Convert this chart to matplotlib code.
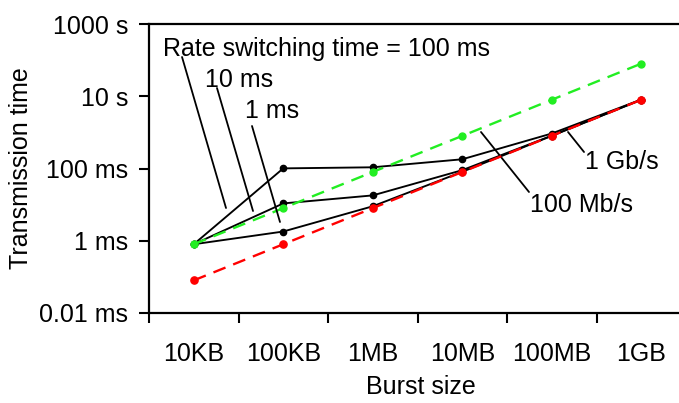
import matplotlib.pyplot as plt
import numpy as np

plt.rcParams['font.family'] = ['Liberation Sans', 'DejaVu Sans']

# Daten (Zeiten in Sekunden)
sizes = ['10KB', '100KB', '1MB', '10MB', '100MB', '1GB']
t_1gbps = [8e-5, 8e-4, 8e-3, 8e-2, 0.8, 8]
t_100mbps = [8e-4, 8e-3, 8e-2, 0.8, 8, 80]
sw_100ms = [8e-4, 0.1008, 0.108, 0.18, 0.93, 8.1]
sw_10ms = [8e-4, 0.0108, 0.018, 0.09, 0.81, 8.01]
sw_1ms = [8e-4, 0.0018, 0.009, 0.081, 0.801, 8.001]

ytick_vals = [1e-5, 1e-3, 1e-1, 1e1, 1e3]
ytick_labels = ['0.01 ms', '1 ms', '100 ms', '10 s', '1000 s']

x = np.arange(len(sizes)) + 0.5
fs = 18

fig = plt.figure(figsize=(6.79, 4.03), dpi=100)
ax = fig.add_axes([149 / 679, 1 - 313 / 403, 537 / 679, 289 / 403])

for ys in (sw_100ms, sw_10ms, sw_1ms):
    ax.plot(x, ys, color='black', lw=1.35, marker='o', ms=4.5, zorder=2)
ax.plot(x, t_100mbps, color='#22ee22', lw=1.7, dashes=(5.5, 3.5), marker='o', ms=5, zorder=3)
ax.plot(x, t_1gbps, color='#ff0000', lw=1.7, dashes=(5.5, 3.5), marker='o', ms=5.2, zorder=4)

ax.set_yscale('log')
ax.set_ylim(1e-5, 1e3)
ax.set_xlim(0, 6)
ax.set_yticks(ytick_vals)
ax.set_yticklabels(ytick_labels)
ax.yaxis.set_minor_locator(plt.NullLocator())
ax.set_xticks(np.arange(0, 7))
ax.set_xticklabels([''] * 7)
ax.set_xticks(x, minor=True)
ax.set_xticklabels(sizes, minor=True)
ax.tick_params(axis='x', which='minor', length=0, pad=21, labelsize=fs)
ax.tick_params(axis='x', which='major', length=7, width=1.5, direction='out')
ax.tick_params(axis='y', length=7, width=1.5, pad=8, labelsize=fs)

for s in ('left', 'bottom', 'top'):
    ax.spines[s].set_linewidth(1.6)
ax.spines['right'].set_visible(False)

ax.set_xlabel('Burst size', fontsize=fs)
ax.set_ylabel('Transmission time', fontsize=fs)
ax.xaxis.set_label_coords(0.5065, -0.215)
ax.yaxis.set_label_coords(-0.216, 0.503)

# Beschriftungen mit Hinweislinien
labels = [('Rate switching time = 100 ms', 0.026, 0.9135),
          ('10 ms', 0.104, 0.806),
          ('1 ms', 0.179, 0.699),
          ('1 Gb/s', 0.812, 0.5225),
          ('100 Mb/s', 0.7095, 0.374)]
for txt, tx, ty in labels:
    ax.text(tx, ty, txt, transform=ax.transAxes, fontsize=fs, va='center', ha='left')

leaders = [((0.0615, 0.8858), (0.1434, 0.3633)),
           ((0.1266, 0.7785), (0.1937, 0.3529)),
           ((0.1918, 0.6471), (0.2439, 0.3149)),
           ((0.7803, 0.6263), (0.8101, 0.5571)),
           ((0.6182, 0.6263), (0.7076, 0.4187))]
for p0, p1 in leaders:
    ax.annotate('', xy=p1, xytext=p0, xycoords='axes fraction',
                textcoords='axes fraction',
                arrowprops=dict(arrowstyle='-', lw=1.3, color='black',
                                shrinkA=0, shrinkB=0))

fig.savefig('out.png', dpi=100)
